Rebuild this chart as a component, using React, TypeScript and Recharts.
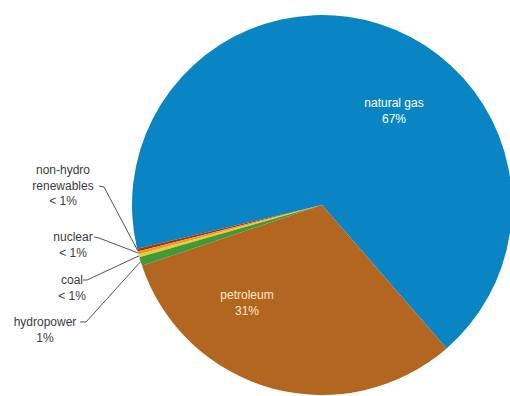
import React from "react";
import { PieChart, Pie, Cell } from "recharts";

const categories = ["natural gas", "non-hydro renewables", "nuclear", "coal", "hydropower", "petroleum"];
const shares = [67.3, 0.25, 0.25, 0.25, 0.75, 31.2];
const shareLabels = ["67%", "< 1%", "< 1%", "< 1%", "1%", "31%"];
const colors = ["#0a85c3", "#a8321f", "#ee9a22", "#e5cf2c", "#3f9a3a", "#b2661f"];

const data = categories.map((name, i) => ({ name, value: shares[i], pct: shareLabels[i] }));

// layout for label blocks: text lines, centre x, first baseline y, leader-line start points
const labelLayout: Record<string, { lines: string[]; x: number; y: number; fill: string; lead?: number[][] }> = {
  "natural gas": { lines: ["natural gas", "67%"], x: 394, y: 107, fill: "#ffffff" },
  petroleum: { lines: ["petroleum", "31%"], x: 247, y: 299, fill: "#fbe7cf" },
  "non-hydro renewables": {
    lines: ["non-hydro", "renewables", "< 1%"], x: 63, y: 174, fill: "#3c3c3c",
    lead: [[99, 186], [104, 187]],
  },
  nuclear: { lines: ["nuclear", "< 1%"], x: 73, y: 241, fill: "#3c3c3c", lead: [[94, 237], [99, 238]] },
  coal: { lines: ["coal", "< 1%"], x: 72, y: 284, fill: "#3c3c3c", lead: [[83, 280], [87, 280]] },
  hydropower: { lines: ["hydropower", "1%"], x: 45, y: 326, fill: "#3c3c3c", lead: [[80, 322], [86, 322]] },
};

const RAD = Math.PI / 180;

const renderLabel = (props: any) => {
  const { cx, cy, midAngle, outerRadius, name } = props;
  const lay = labelLayout[name];
  if (!lay) return null;
  const ex = cx + outerRadius * Math.cos(-midAngle * RAD);
  const ey = cy + outerRadius * Math.sin(-midAngle * RAD);
  const lh = 15.5;
  return (
    <g>
      {lay.lead && (
        <polyline
          points={[...lay.lead, [ex, ey]].map((p) => p.join(",")).join(" ")}
          fill="none"
          stroke="#555555"
          strokeWidth={1}
        />
      )}
      <text
        x={lay.x}
        y={lay.y}
        textAnchor="middle"
        fill={lay.fill}
        fontSize={12}
        fontFamily="'Liberation Sans', Arial, sans-serif"
      >
        {lay.lines.map((l, i) => (
          <tspan key={i} x={lay.x} y={lay.y + i * lh}>
            {l}
          </tspan>
        ))}
      </text>
    </g>
  );
};

export default function App() {
  return (
    <div style={{ position: "absolute", left: 0, top: 0, width: 510, height: 396, background: "#ffffff" }}>
      <PieChart width={510} height={396} margin={{ top: 0, right: 0, bottom: 0, left: 0 }}>
        <Pie
          data={data}
          dataKey="value"
          nameKey="name"
          cx={322}
          cy={205}
          outerRadius={190}
          startAngle={-49}
          endAngle={311}
          stroke="none"
          isAnimationActive={false}
          label={renderLabel}
          labelLine={false}
        >
          {data.map((d, i) => (
            <Cell key={d.name} fill={colors[i]} />
          ))}
        </Pie>
      </PieChart>
    </div>
  );
}
